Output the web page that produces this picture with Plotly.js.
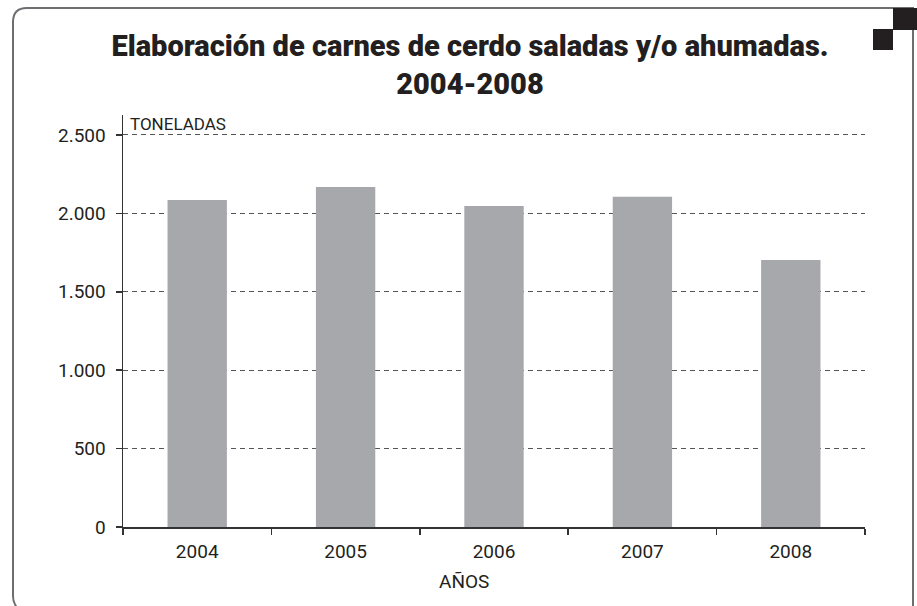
<!DOCTYPE html>
<html>
<head>
<meta charset="utf-8">
<script src="https://cdn.plot.ly/plotly-3.0.1.min.js"></script>
<style>
  body { margin: 0; background: #fff; }
  #chart { width: 917px; height: 606px; }
</style>
</head>
<body>
<div id="chart"></div>
<script>
// Data (toneladas por año)
var years = ["2004", "2005", "2006", "2007", "2008"];
var tons = [2085, 2168, 2047, 2105, 1703];

// plot area in pixels, used to place the frame decoration
var L = 123, R = 52, T = 115, B = 79;
var W = 917 - L - R, H = 606 - T - B;
function px(x) { return (x - L) / W; }
function py(y) { return (606 - B - y) / H; }
function path(points) {
  return points.map(function (p) {
    return p[0] + " " + px(p[1]) + "," + py(p[2]);
  }).join(" ");
}

var frame = path([
  ["M", 22, 612], ["Q", 13, 606], ["", 13, 596],
  ["L", 13, 22], ["Q", 13, 8], ["", 27, 8],
  ["L", 913, 8], ["L", 913, 612]
]);

var txt = "#231f20";
var fam = "Roboto, 'Liberation Sans', sans-serif";

var trace = {
  x: years,
  y: tons,
  type: "bar",
  width: 0.4,
  marker: { color: "#a7a8ab" },
  hoverinfo: "skip"
};

var layout = {
  width: 917,
  height: 606,
  margin: { l: L, r: R, t: T, b: B },
  paper_bgcolor: "#fff",
  plot_bgcolor: "#fff",
  showlegend: false,
  separators: ",.",
  font: { family: fam, size: 19, color: txt },
  title: {
    text: "Elaboración de carnes de cerdo saladas y/o ahumadas.<br>2004-2008",
    font: { family: fam, size: 29, color: txt, weight: 900 },
    xref: "container", x: 470 / 917, xanchor: "center",
    yref: "container", y: 1 - 56 / 606, yanchor: "middle"
  },
  xaxis: {
    type: "category",
    range: [-0.5, 4.5],
    showline: true, linecolor: "#333", linewidth: 2,
    ticks: "outside", tickson: "boundaries", ticklen: 6, tickcolor: "#333", tickwidth: 1.5,
    ticklabelstandoff: 6,
    showgrid: false,
    tickfont: { size: 19 }
  },
  yaxis: {
    range: [0, 2627],
    tick0: 0, dtick: 500,
    tickformat: ",d",
    showline: true, linecolor: "#333", linewidth: 1.5,
    ticks: "outside", ticklen: 6, tickcolor: "#333", tickwidth: 1.5,
    ticklabelstandoff: 6,
    showgrid: true, gridcolor: "#555", gridwidth: 1, griddash: "5px,4px",
    zeroline: false,
    tickfont: { size: 19 }
  },
  annotations: [
    {
      text: "TONELADAS", showarrow: false,
      xref: "paper", yref: "paper", x: px(128), y: py(124), xanchor: "left", yanchor: "middle",
      font: { size: 17 }
    },
    {
      text: "AÑOS", showarrow: false,
      xref: "paper", yref: "paper", x: px(464), y: py(581), xanchor: "center", yanchor: "middle",
      font: { size: 19 }
    }
  ],
  shapes: [
    { type: "path", xref: "paper", yref: "paper", path: frame, line: { color: "#6d6e71", width: 2 } },
    { type: "rect", xref: "paper", yref: "paper", x0: px(893), x1: px(918), y0: py(30), y1: py(8),
      fillcolor: txt, line: { width: 0 } },
    { type: "rect", xref: "paper", yref: "paper", x0: px(873), x1: px(893), y0: py(50), y1: py(29),
      fillcolor: txt, line: { width: 0 } }
  ]
};

Plotly.newPlot("chart", [trace], layout, { displayModeBar: false, staticPlot: true });
</script>
</body>
</html>
